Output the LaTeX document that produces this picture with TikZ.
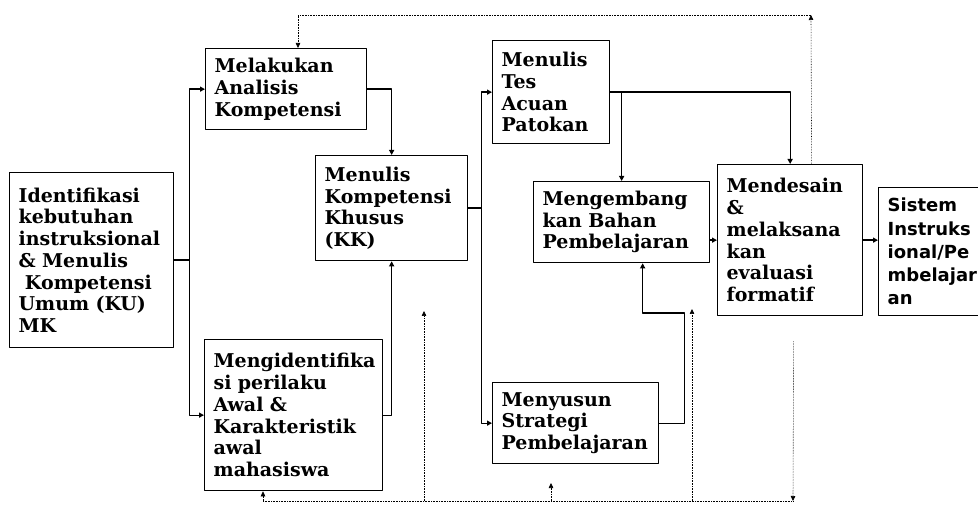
\documentclass[tikz,border=0pt]{standalone}
\usepackage{fontspec}
\setmainfont{DejaVu Serif}
\newfontfamily\sistemfont{DejaVu Sans}
\usepackage{tikz}
\usetikzlibrary{arrows.meta}

\begin{document}
\begin{tikzpicture}[
    x=1pt, y=-1pt,
    line join=round,
    blok/.style={draw, line width=1.3pt, anchor=north west, align=left,
      inner xsep=9pt, inner ysep=2pt,
      font=\fontsize{19}{21.7}\selectfont\bfseries},
    panah/.style={line width=1.3pt, -{Triangle[length=5pt,width=5pt]}},
    umpan/.style={line width=0.6pt, densely dotted, -{Triangle[length=5pt,width=4.5pt]}},
    umpangaris/.style={line width=0.6pt, densely dotted},
  ]

  % ---------- frame (image size, y grows downward) ----------
  \useasboundingbox (0,0) rectangle (978,505);
  \clip (0,0) rectangle (978,505);

  % ---------- BOXES ----------
  \node[blok, text width=146pt, minimum height=175pt] (ident) at (9,172)
    {Identifikasi\\kebutuhan\\instruksional\\\& Menulis\\\ Kompetensi\\Umum (KU)\\MK};
  \node[blok, text width=143pt, minimum height=81pt] (anal) at (205,48)
    {Melakukan\\Analisis\\Kompetensi};
  \node[blok, text width=134pt, minimum height=105pt] (kk) at (315,155)
    {Menulis\\Kompetensi\\Khusus\\(KK)};
  \node[blok, text width=160pt, minimum height=151pt] (awal) at (204,339)
    {Mengidentifika\\si perilaku\\Awal \&\\Karakteristik\\awal\\mahasiswa};
  \node[blok, text width=99pt, minimum height=103pt] (tes) at (492,40)
    {Menulis\\Tes\\Acuan\\Patokan};
  \node[blok, text width=158pt, minimum height=81pt] (kembang) at (533,181)
    {Mengembang\\kan Bahan\\Pembelajaran};
  \node[blok, text width=127pt, minimum height=151pt] (mend) at (717,164)
    {Mendesain\\\&\\melaksana\\kan\\evaluasi\\formatif};
  \node[blok, text width=100pt, minimum height=128pt,
        font=\fontsize{18}{23.3}\selectfont\sistemfont\bfseries] (sistem) at (878,187)
    {Sistem\\Instruks\\ional/Pe\\mbelajar\\an};
  \node[blok, text width=148pt, minimum height=81pt] (susun) at (492,382)
    {Menyusun\\Strategi\\Pembelajaran};

  % ---------- main flow ----------
  \draw[panah] (ident.east) -- ++(15,0) |- (anal.west);
  \draw[panah] (ident.east) -- ++(15,0) |- (awal.west);
  \draw[panah] (anal.east) -| (kk.north);
  \draw[panah] (awal.east) -| (kk.south);
  \draw[panah] (kk.east) -- ++(13,0) |- (tes.west);
  \draw[panah] (kk.east) -- ++(13,0) |- (susun.west);
  \draw[panah] (tes.east) -| (mend.north);
  \draw[panah] (tes.east -| kembang.north) -- (kembang.north);
  \draw[panah] (susun.east) -| ++(25,-110) -| ([xshift=21pt]kembang.south);
  \draw[panah] (kembang.east |- mend.west) -- (mend.west);
  \draw[panah] (mend.east) -- (mend.east -| sistem.west);

  % ---------- feedback (dotted) ----------
  \coordinate (atasKanan) at (811,15);
  \coordinate (atasKiri) at (298,15);
  \draw[umpan] ([xshift=21.5pt]mend.north) -- (atasKanan);
  \draw[umpan] (atasKanan) -- (atasKiri) -- (atasKiri |- anal.north);

  \coordinate (bawahKiri) at (263,501);
  \coordinate (bawahKanan) at (793,501);
  \draw[umpan] ([xshift=3.5pt,yshift=-25pt]mend.south) -- (bawahKanan);
  \draw[umpangaris] (bawahKiri) -- (bawahKanan);
  \draw[umpan] (bawahKiri) -- (bawahKiri |- awal.south);
  \foreach \x/\y in {424/311, 551/483, 692/309}
    \draw[umpan] (\x,501) -- (\x,\y);

\end{tikzpicture}
\end{document}
